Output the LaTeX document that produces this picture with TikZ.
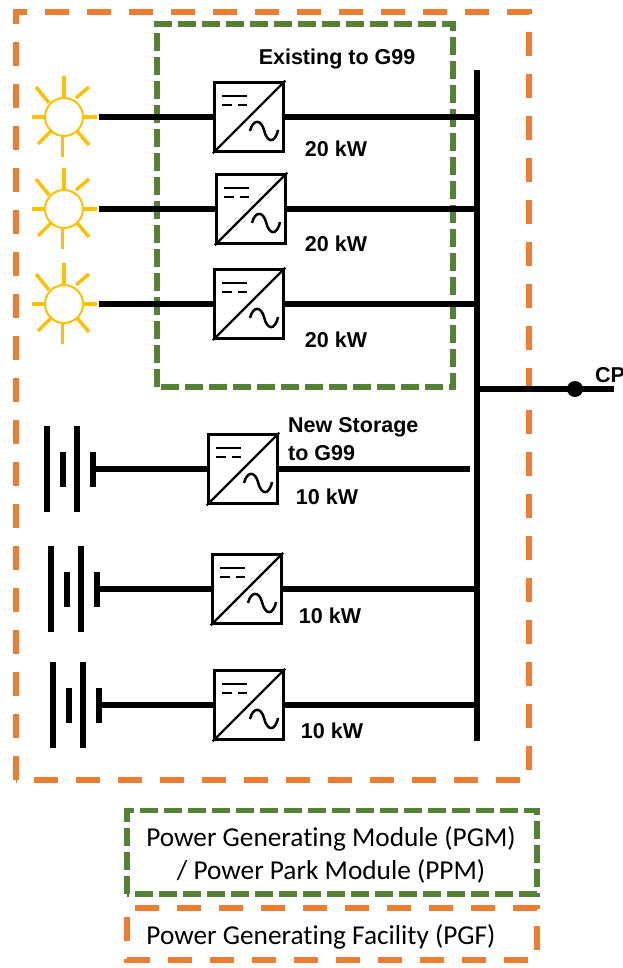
\documentclass[tikz,border=0pt]{standalone}
\usepackage{fontspec}
\setmainfont{Liberation Sans}
\newfontfamily\legendfont[Ligatures=CommonOff]{Carlito}
\usepackage{xcolor}
\usetikzlibrary{calc}
\definecolor{frameorange}{HTML}{ED7D31}
\definecolor{framegreen}{HTML}{548235}
\definecolor{sunyellow}{HTML}{FFC000}
\tikzset{
 orangeframe/.style={frameorange, line width=6pt, dash pattern=on 24pt off 18pt},
 greenframe/.style={framegreen, line width=5.7pt, dash pattern=on 18pt off 6pt},
 wire/.style={black, line width=6pt},
 conv/.style={draw=black, line width=3pt, fill=white, minimum size=69.5pt, inner sep=0, outer sep=1.5pt},
 sun/.style={draw=sunyellow, circle, line width=2pt, minimum size=38pt, inner sep=0, outer sep=0},
 longplate/.style={fill=black, minimum width=6pt, minimum height=86pt, inner sep=0, outer sep=0},
 shortplate/.style={fill=black, minimum width=6pt, minimum height=35pt, inner sep=0, outer sep=0},
 boldlabel/.style={font=\fontsize{21.5}{24}\selectfont\bfseries, inner sep=0},
 legendtext/.style={font=\legendfont\fontsize{27.3}{32}\selectfont, inner sep=0}
}
\begin{document}
\begin{tikzpicture}[x=1pt, y=-1pt]
\useasboundingbox (0,0) rectangle (623,968);
\draw[orangeframe] (15.7,780)--(15.7,11.7)--(528.7,11.7)--(528.7,780)--cycle;
\draw[greenframe] (157.3,387)--(157.3,23.7)--(452.7,23.7)--(452.7,387)--cycle;
\node[fill=black, minimum width=6pt, minimum height=671pt, inner sep=0, outer sep=0] (bus) at (477,405.5) {};
\foreach \y/\n in {117/1, 209/2, 304/3} {
 \node[sun] (sun\n) at (64,\y) {};
 \begin{scope}[shift={(64,\y)}, sunyellow, line width=3.5pt]
 \draw (0,-41)--(0,-20);
 \draw (20,0)--(33,0);
 \draw (-32,0)--(-20,0);
 \draw (-1.5,20)--(-1.5,40);
 \draw (-28,-30)--(-15,-14);
 \draw (25,-30)--(12,-19);
 \draw (-26,27)--(-12,13);
 \draw (25,28)--(13,14);
 \end{scope}
}
\foreach \x/\y/\n in {249/117/1, 251/209/2, 249/304/3, 243/469/4, 247/589/5, 249/705/6} {
 \node[conv] (conv\n) at (\x,\y) {};
 \draw[black, line width=2.2pt] (conv\n.south west)--(conv\n.north east);
 \begin{scope}[shift={(\x,\y)}, black, line width=2.5pt]
 \draw (-27,-21)--(-2,-21);
 \draw (-27,-12)--(-17,-12);
 \draw (-11,-12)--(-2,-12);
 \draw (1,14) .. controls (4,2) and (12,2) .. (15,13) .. controls (18,26) and (26,27) .. (29,13);
 \end{scope}
}
\foreach \x/\y/\n in {47/469/4, 51/589/5, 53/705/6} {
 \node[longplate] at (\x,\y) {};
 \node[shortplate] at (\x+16,\y) {};
 \node[longplate] at (\x+30,\y) {};
 \node[shortplate] (bat\n) at (\x+46,\y) {};
 \draw[wire] (bat\n.center)--(conv\n.west);
}
\foreach \n in {1,2,3} {
 \draw[wire] ([xshift=16pt]sun\n.east)--(conv\n.west);
}
\foreach \n in {1,2,3,5,6} {
 \draw[wire] (conv\n.east)--(conv\n.east -| bus.center);
}
\coordinate (stub) at (470,469);
\draw[wire] (conv4.east)--(stub);
\coordinate (cpend) at (614,389);
\draw[wire] (bus.center |- cpend)--(cpend);
\node[fill=black, circle, minimum size=16pt, inner sep=0] (cpdot) at (575,389) {};
\node[boldlabel, anchor=west] (cp) at (595,375) {CP};
\node[boldlabel] (existing) at (337,59) {Existing to G99};
\node[boldlabel, anchor=west] (new1) at (288,427) {New Storage};
\node[boldlabel, anchor=west] (new2) at (288,453) {to G99};
\foreach \x/\y/\t/\n in {336/149/20 kW/a, 336/244/20 kW/b, 336/340/20 kW/c, 327/497/10 kW/d, 330/616/10 kW/e, 332/731/10 kW/f} {
 \node[boldlabel] (rating\n) at (\x,\y) {\t};
}
\draw[greenframe] (127,894)--(127,810.5)--(536.7,810.5)--(536.7,894)--cycle;
\draw[orangeframe, dash phase=34pt] (127,908)--(536.7,908)--(536.7,960)--(127,960)--cycle;
\node[legendtext] (pgm) at (331,839) {Power Generating Module (PGM)};
\node[legendtext] (ppm) at (331,871) {/ Power Park Module (PPM)};
\node[legendtext] (pgf) at (321,937) {Power Generating Facility (PGF)};
\end{tikzpicture}
\end{document}
